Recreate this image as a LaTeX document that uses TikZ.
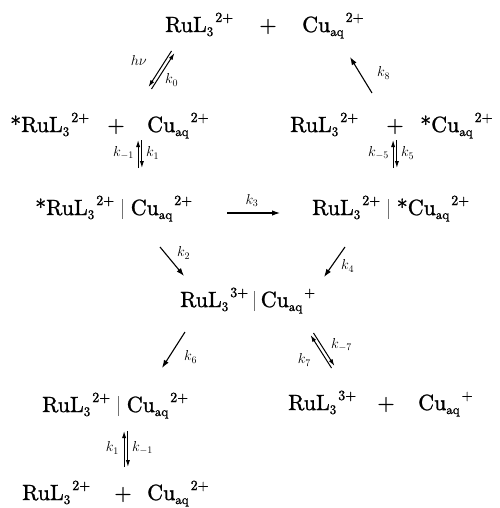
\documentclass[tikz,border=0pt]{standalone}
\usepackage{fontspec}
\usetikzlibrary{arrows.meta}
\newfontfamily\heavy{lmroman10-regular}[Extension=.otf, FakeBold=1.2]
\newcommand{\subx}[1]{\raisebox{-4pt}{\fontsize{13}{13}\selectfont #1}}
\newcommand{\supx}[1]{\raisebox{10pt}{\fontsize{14}{14}\selectfont #1}}
\newcommand{\RuLx}[1]{RuL\subx{3}\hspace{2pt}\supx{#1}}
\newcommand{\Cuaqx}[1]{Cu\subx{aq}\hspace{2pt}\supx{#1}}
\newcommand{\sepbar}[1]{\hspace{#1}\textcolor{black!55}{\rule[-4pt]{0.6pt}{20pt}}\hspace{#1}}
\tikzset{
  sp/.style={inner sep=0pt, anchor=base west, font=\heavy\fontsize{22}{26}\selectfont},
  pl/.style={inner sep=0pt, anchor=base, font=\heavy\fontsize{22}{26}\selectfont},
  kl/.style={inner sep=1pt, font=\fontsize{14}{16}\selectfont},
  rx/.style={line width=1.1pt, -{Latex[length=8pt,width=5.5pt]}},
  eq/.style={line width=1pt, -{Latex[length=7pt,width=4.2pt]}},
}
\begin{document}
\begin{tikzpicture}[x=1pt,y=-1pt]
\useasboundingbox (0,0) rectangle (499,508);
% row 1
\node[sp] (r1a) at (165,32) {\RuLx{2+}};
\node[pl] (p1) at (268,32) {+};
\node[sp] (r1b) at (302,32) {\Cuaqx{2+}};
% row 2
\node[sp] (r2a) at (10,132) {*\RuLx{2+}};
\node[pl] (p2) at (116,132) {+};
\node[sp] (r2b) at (147,132) {\Cuaqx{2+}};
\node[sp] (r2c) at (290,132) {\RuLx{2+}};
\node[pl] (p3) at (395,132) {+};
\node[sp] (r2d) at (420,132) {*\Cuaqx{2+}};
% row 3
\node[sp] (r3a) at (35,215) {*\RuLx{2+}\sepbar{8pt}\Cuaqx{2+}};
\node[sp] (r3b) at (312,215) {\RuLx{2+}\sepbar{8pt}*\Cuaqx{2+}};
% row 4
\node[sp] (r4) at (180,307) {\RuLx{3+}\sepbar{6pt}\Cuaqx{+}};
% row 5
\node[sp] (r5a) at (42,412) {\RuLx{2+}\sepbar{8pt}\Cuaqx{2+}};
\node[sp] (r5b) at (288,410) {\RuLx{3+}};
\node[pl] (p4) at (386,410) {+};
\node[sp] (r5c) at (418,410) {\Cuaqx{+}};
% row 6
\node[sp] (r6a) at (22,500) {\RuLx{2+}};
\node[pl] (p5) at (123,500) {+};
\node[sp] (r6b) at (147,500) {\Cuaqx{2+}};

% arrow end points
\coordinate (a0s) at (173,52); \coordinate (a0e) at (150,88);
\coordinate (a8s) at (372,93); \coordinate (a8e) at (350,57);
\coordinate (a1s) at (140,140); \coordinate (a1e) at (140,168);
\coordinate (a5s) at (395,140); \coordinate (a5e) at (395,168);
\coordinate (a3s) at (227,213); \coordinate (a3e) at (280,213);
\coordinate (a2s) at (160,247); \coordinate (a2e) at (184,276);
\coordinate (a4s) at (345,247); \coordinate (a4e) at (324,277);
\coordinate (a6s) at (185,332); \coordinate (a6e) at (162,368);
\coordinate (a7s) at (312,334); \coordinate (a7e) at (333,367);
\coordinate (b1s) at (126,431); \coordinate (b1e) at (126,467);

% hv / k0
\draw[eq] ([shift={(-1.5,-1)}]a0s) -- ([shift={(-1.5,-1)}]a0e);
\draw[eq] ([shift={(1.5,1)}]a0e) -- ([shift={(1.5,1)}]a0s);
\node[kl, anchor=east] (lhv) at (148,61) {$h\nu$};
\node[kl, anchor=west] (lk0) at (164,80) {$k_0$};
% k8
\draw[rx] (a8s) -- (a8e);
\node[kl, anchor=west] (lk8) at (376,73) {$k_8$};
% k-1 / k1
\draw[eq] ([xshift=-1.9]a1e) -- ([xshift=-1.9]a1s);
\draw[eq] ([xshift=1.9]a1s) -- ([xshift=1.9]a1e);
\node[kl, anchor=east] (lkm1) at (135,153) {$k_{-1}$};
\node[kl, anchor=west] (lk1) at (145,153) {$k_1$};
% k-5 / k5
\draw[eq] ([xshift=-1.9]a5e) -- ([xshift=-1.9]a5s);
\draw[eq] ([xshift=1.9]a5s) -- ([xshift=1.9]a5e);
\node[kl, anchor=east] (lkm5) at (390,153) {$k_{-5}$};
\node[kl, anchor=west] (lk5) at (400,153) {$k_5$};
% k3
\draw[rx] (a3s) -- (a3e);
\node[kl, anchor=south] (lk3) at (252,208) {$k_3$};
% k2
\draw[rx] (a2s) -- (a2e);
\node[kl, anchor=west] (lk2) at (176,253) {$k_2$};
% k4
\draw[rx] (a4s) -- (a4e);
\node[kl, anchor=west] (lk4) at (340,266) {$k_4$};
% k6
\draw[rx] (a6s) -- (a6e);
\node[kl, anchor=west] (lk6) at (183,357) {$k_6$};
% k7 / k-7
\draw[eq] ([shift={(-1.5,1)}]a7e) -- ([shift={(-1.5,1)}]a7s);
\draw[eq] ([shift={(1.5,-1)}]a7s) -- ([shift={(1.5,-1)}]a7e);
\node[kl, anchor=east] (lk7) at (312,360) {$k_7$};
\node[kl, anchor=west] (lkm7) at (330,345) {$k_{-7}$};
% bottom k1 / k-1
\draw[eq] ([xshift=-1.9]b1e) -- ([xshift=-1.9]b1s);
\draw[eq] ([xshift=1.9]b1s) -- ([xshift=1.9]b1e);
\node[kl, anchor=east] (lbk1) at (120,448) {$k_1$};
\node[kl, anchor=west] (lbkm1) at (131,448) {$k_{-1}$};
\end{tikzpicture}
\end{document}
